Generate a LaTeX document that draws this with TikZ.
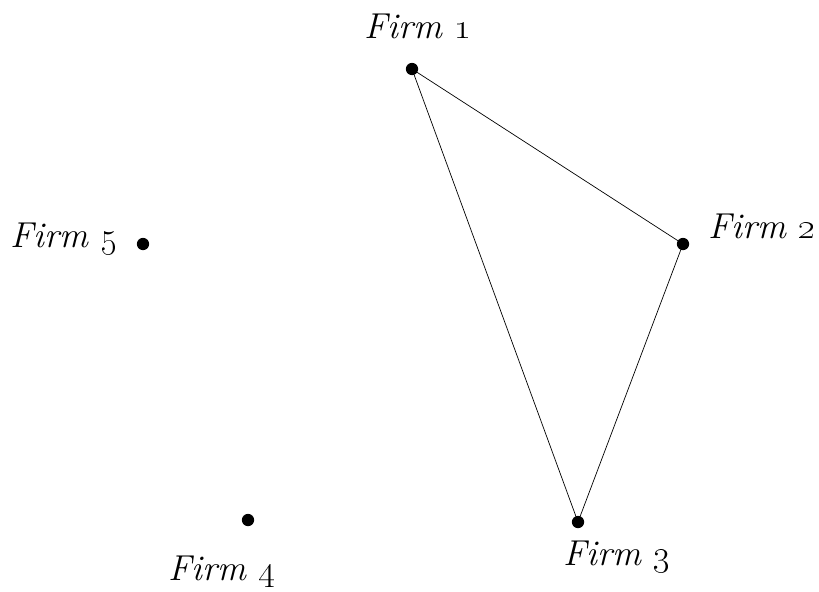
\documentclass[tikz,border=0pt]{standalone}
\usetikzlibrary{positioning}

\tikzset{
  firm/.style={circle,fill=black,inner sep=0pt,minimum size=7pt},
  firmlabel/.style={anchor=base,inner sep=0pt,font=\fontsize{20.5}{24}\selectfont\itshape}
}

\begin{document}
\begin{tikzpicture}[x=0.02cm,y=-0.02cm]
\useasboundingbox (0,0) rectangle (819,592);
\node[firm] (f1) at (412,69) {};
\node[firm] (f2) at (683,244) {};
\node[firm] (f3) at (578,522) {};
\node[firm] (f4) at (248,520) {};
\node[firm] (f5) at (143,244) {};
\draw[thin] (f1.center) -- (f2.center) -- (f3.center) -- cycle;
\node[firmlabel] (l1) at (418,38) {Firm \oldstylenums{1}};
\node[firmlabel] (l2) at (762,238) {Firm \oldstylenums{2}};
\node[firmlabel] (l3) at (617,565) {Firm \oldstylenums{3}};
\node[firmlabel] (l4) at (222,580) {Firm \oldstylenums{4}};
\node[firmlabel] (l5) at (64,247) {Firm \oldstylenums{5}};
\end{tikzpicture}
\end{document}
